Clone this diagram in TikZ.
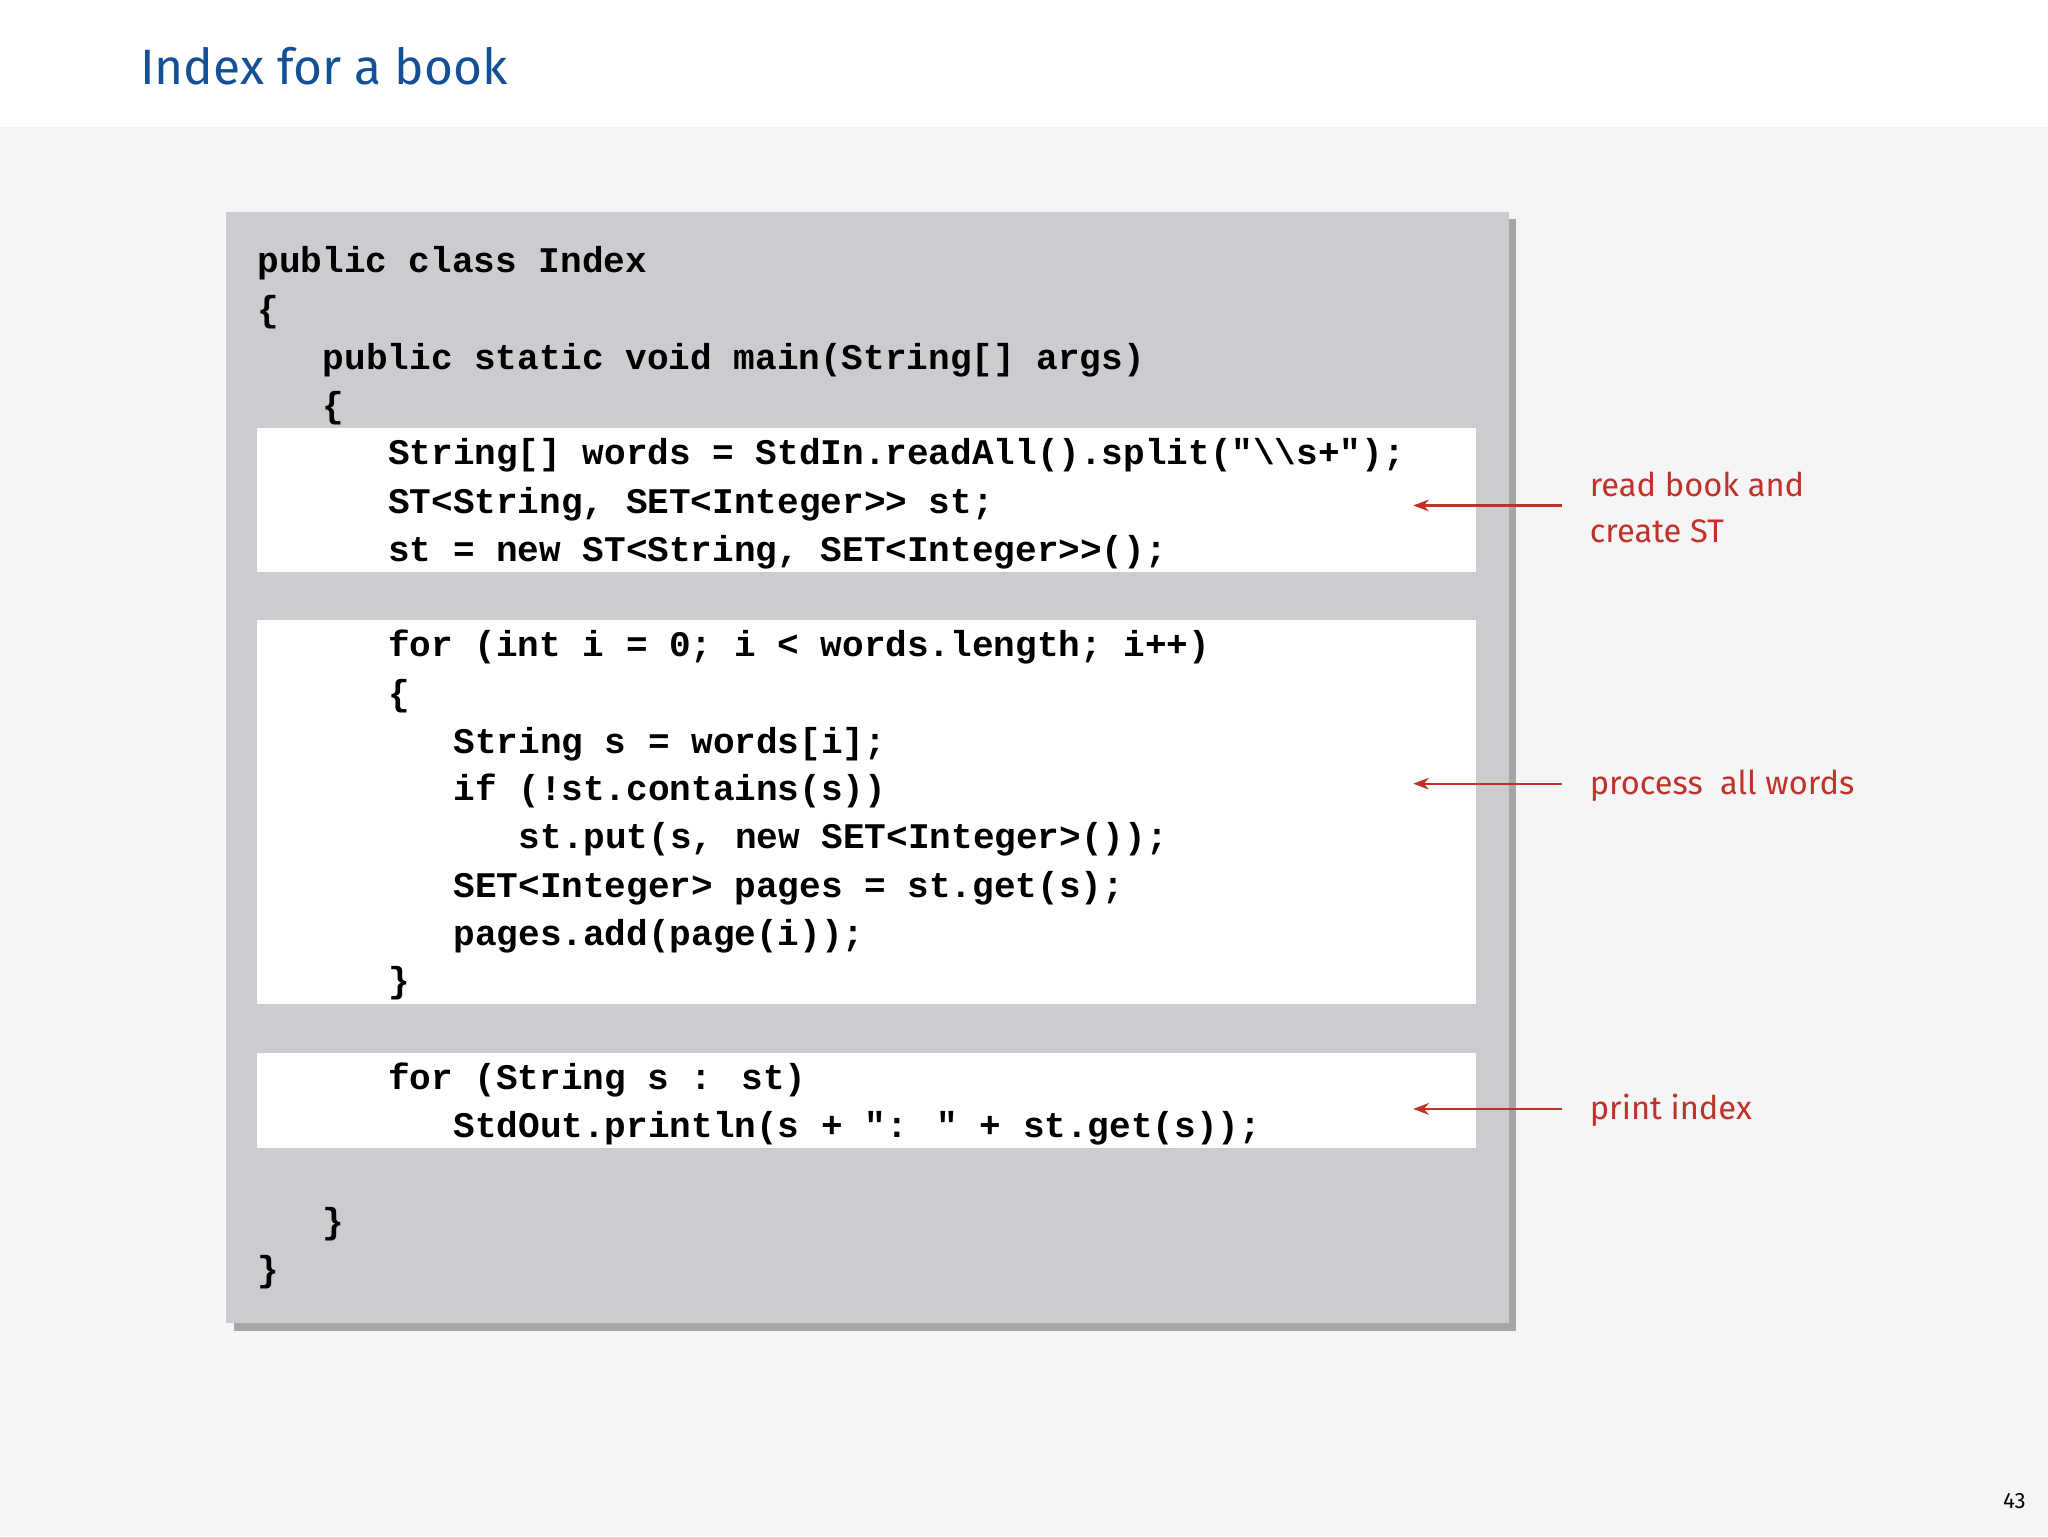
\documentclass[tikz,border=0pt]{standalone}
\usepackage{fontspec}
\setmainfont{Fira Sans}
\newfontfamily\codefont{Liberation Mono}
\usetikzlibrary{arrows.meta}
\definecolor{titleblue}{RGB}{20,80,150}
\definecolor{annred}{RGB}{190,50,40}
\definecolor{boxgray}{RGB}{204,203,208}
\definecolor{bggray}{RGB}{245,245,247}
\begin{document}
\begin{tikzpicture}[x=1pt,y=-1pt,
  code/.style={anchor=base west,inner sep=0pt,font=\codefont\bfseries\fontsize{27.6}{30}\selectfont},
  ann/.style={anchor=base west,inner sep=0pt,text=annred,font=\fontsize{25}{30}\selectfont},
  arr/.style={draw=annred,line width=1.6pt,-{Stealth[length=12pt,width=9pt]}}]
\useasboundingbox (0,0) rectangle (1568,1176);
\fill[white] (0,0) rectangle (1568,97);
\fill[bggray] (0,97) rectangle (1568,1176);
\node[anchor=base west,inner sep=0pt,text=titleblue,font=\fontsize{38}{44}\selectfont] (title) at (107,65) {Index for a book};
\fill[black!35] (179,168) rectangle (1161,1019);
\fill[boxgray] (173,162) rectangle (1155,1013);
\fill[white] (197,328) rectangle (1130,438);
\fill[white] (197,475) rectangle (1130,769);
\fill[white] (197,806) rectangle (1130,879);
\def\L#1#2#3{\node[code] (l#1) at (#2,#1) {#3};}
\L{209}{197}{public class Index}
\L{246}{197}{\{}
\L{283}{247}{public static void main(String[] args)}
\L{320}{247}{\{}
\L{356}{297}{String[] words = StdIn.readAll().split("\textbackslash\textbackslash s+");}
\L{393}{297}{ST<String, SET<Integer>> st;}
\L{430}{297}{st = new ST<String, SET<Integer>>();}
\L{503}{297}{for (int i = 0; i < words.length; i++)}
\L{540}{297}{\{}
\L{577}{347}{String s = words[i];}
\L{613}{347}{if (!st.contains(s))}
\L{650}{397}{st.put(s, new SET<Integer>());}
\L{687}{347}{SET<Integer> pages = st.get(s);}
\L{724}{347}{pages.add(page(i));}
\L{760}{297}{\}}
\L{834}{297}{for (String s : st)}
\L{871}{347}{StdOut.println(s + ": " + st.get(s));}
\L{944}{247}{\}}
\L{981}{197}{\}}
\coordinate (s1) at (1196,387); \coordinate (e1) at (1082,387);
\coordinate (s2) at (1196,600); \coordinate (e2) at (1082,600);
\coordinate (s3) at (1196,849); \coordinate (e3) at (1082,849);
\draw[arr] (s1) -- (e1);
\draw[arr] (s2) -- (e2);
\draw[arr] (s3) -- (e3);
\node[ann] (a1) at (1217,380) {read book and};
\node[ann] (a1b) at (1217,415) {create ST};
\node[ann] (a2) at (1217,608) {process\ \ all words};
\node[ann] (a3) at (1217,857) {print index};
\node[anchor=base east,inner sep=0pt,font=\fontsize{17}{20}\selectfont] (pg) at (1551,1155) {43};
\end{tikzpicture}
\end{document}
